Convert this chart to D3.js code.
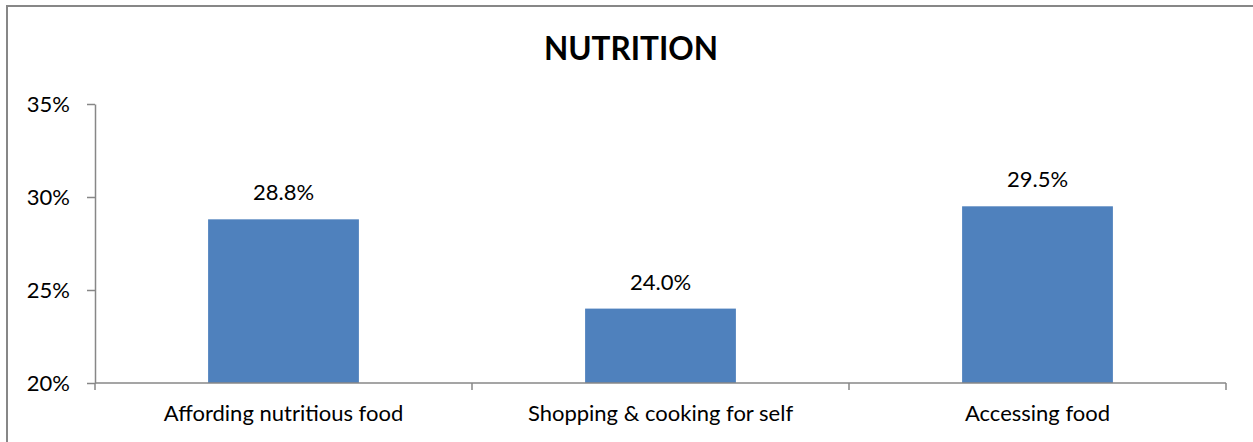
<!DOCTYPE html>
<html>
<head>
<meta charset="utf-8">
<script src="https://cdn.jsdelivr.net/npm/d3@7"></script>
<style>
  html, body { margin: 0; padding: 0; background: #fff; }
  svg { display: block; }
  text { font-family: Lato, "Open Sans", sans-serif; fill: #000; }
</style>
</head>
<body>
<svg id="chart" width="1253" height="442"></svg>
<script>
// Nutrition survey results
const title = "NUTRITION";
const categories = ["Affording nutritious food", "Shopping & cooking for self", "Accessing food"];
const values = [28.8, 24.0, 29.5];
const yTicks = [20, 25, 30, 35];

const svg = d3.select("#chart");
const W = 1253, H = 442;
const margin = { left: 95, right: W - 1226, top: 104, bottom: H - 383 };
const labelSize = "22px";

// outer frame
svg.append("rect")
  .attr("x", 7).attr("y", 6)
  .attr("width", W + 10).attr("height", H + 10)
  .attr("fill", "none").attr("stroke", "#878787").attr("stroke-width", 2);

svg.append("text")
  .attr("x", 631).attr("y", 60)
  .attr("text-anchor", "middle")
  .style("font-size", "31.5px").style("font-weight", "bold")
  .text(title);

const x = d3.scaleBand()
  .domain(categories)
  .range([margin.left, W - margin.right])
  .paddingInner(0.6).paddingOuter(0.3);

const y = d3.scaleLinear()
  .domain([20, 35])
  .range([H - margin.bottom, margin.top]);

// bars
svg.append("g").selectAll("rect")
  .data(values)
  .join("rect")
  .attr("x", (d, i) => x(categories[i]))
  .attr("y", d => y(d))
  .attr("width", x.bandwidth())
  .attr("height", d => y(20) - y(d))
  .attr("fill", "#4F81BD");

// value labels
svg.append("g").selectAll("text")
  .data(values)
  .join("text")
  .attr("x", (d, i) => x(categories[i]) + x.bandwidth() / 2)
  .attr("y", d => y(d) - 19)
  .attr("text-anchor", "middle")
  .style("font-size", labelSize)
  .text(d => d.toFixed(1) + "%");

// y axis
const yAxis = svg.append("g")
  .attr("transform", `translate(${margin.left},0)`)
  .call(d3.axisLeft(y).tickValues(yTicks).tickFormat(d => d + "%").tickSize(8).tickSizeOuter(0));
yAxis.select(".domain").attr("stroke", "#878787").attr("stroke-width", 1.5);
yAxis.selectAll(".tick line").attr("stroke", "#878787").attr("stroke-width", 1.5);
yAxis.selectAll(".tick text")
  .attr("x", -25)
  .attr("dy", "0.36em")
  .style("font-size", labelSize)
  .style("font-family", "Lato, 'Open Sans', sans-serif")
  .attr("fill", "#000");

// x axis with category dividers
const xAxisG = svg.append("g")
  .attr("transform", `translate(0,${y(20)})`);
const [x0, x1] = x.range();
xAxisG.append("line")
  .attr("x1", x0).attr("x2", x1)
  .attr("stroke", "#878787").attr("stroke-width", 1.5);
const edges = [x0].concat(categories.map(c => x(c) + x.bandwidth() / 2 + x.step() / 2));
xAxisG.selectAll("line.div")
  .data(edges)
  .join("line")
  .attr("class", "div")
  .attr("x1", d => d).attr("x2", d => d)
  .attr("y1", 0).attr("y2", 7)
  .attr("stroke", "#878787").attr("stroke-width", 1.5);
xAxisG.selectAll("text")
  .data(categories)
  .join("text")
  .attr("x", d => x(d) + x.bandwidth() / 2)
  .attr("y", 38)
  .attr("text-anchor", "middle")
  .style("font-size", labelSize)
  .text(d => d);
</script>
</body>
</html>
